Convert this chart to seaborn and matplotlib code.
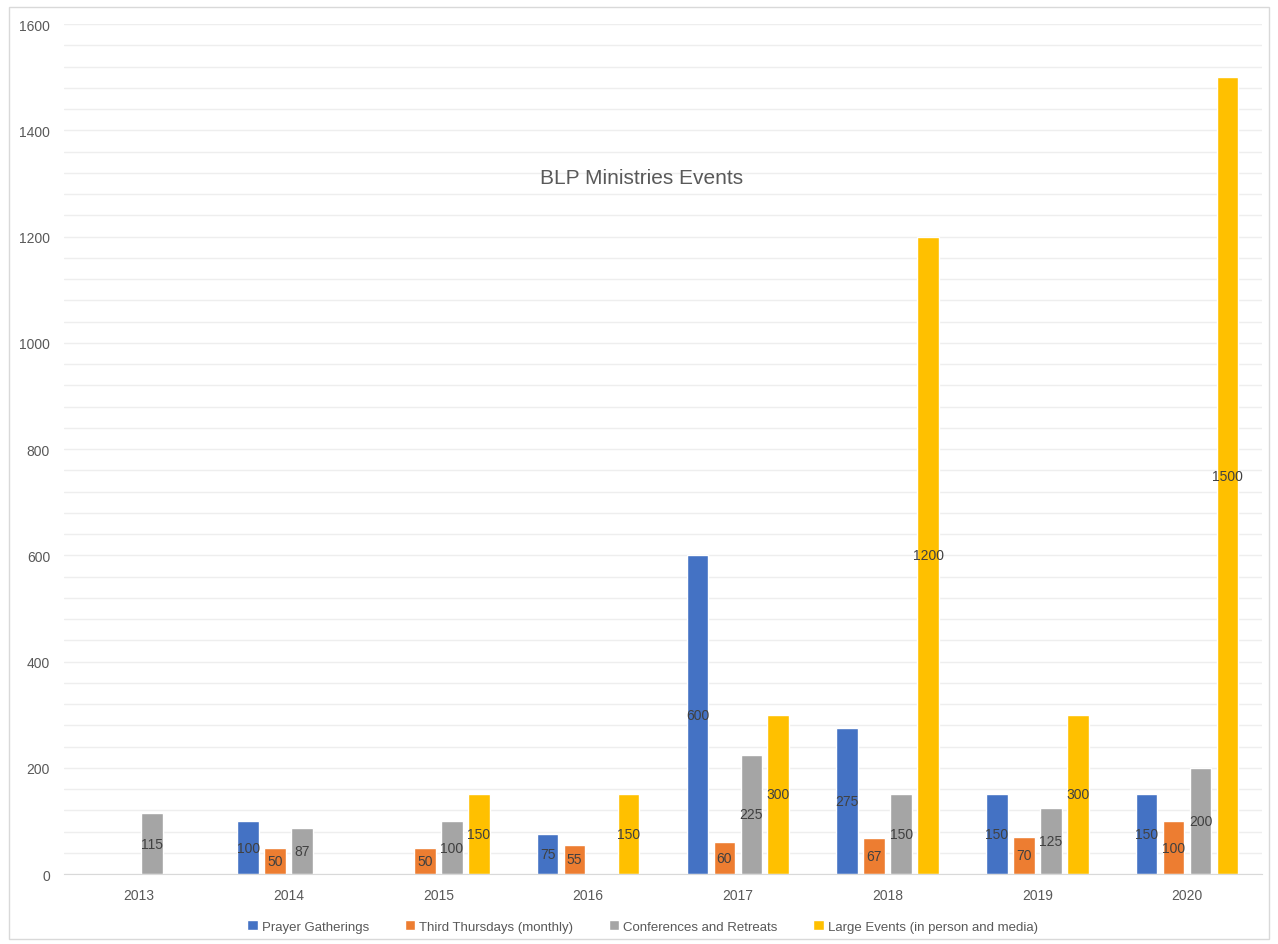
import pandas as pd
import matplotlib.pyplot as plt
import seaborn as sns
from matplotlib.ticker import MultipleLocator
from matplotlib.patches import Rectangle

# Daten
years = ['2013', '2014', '2015', '2016', '2017', '2018', '2019', '2020']
series = ['Prayer Gatherings', 'Third Thursdays (monthly)',
          'Conferences and Retreats', 'Large Events (in person and media)']
prayer = [None, 100, None, 75, 600, 275, 150, 150]
third_thursdays = [None, 50, 50, 55, 60, 67, 70, 100]
conferences = [115, 87, 100, None, 225, 150, 125, 200]
large_events = [None, None, 150, 150, 300, 1200, 300, 1500]
colors = ['#4472C4', '#ED7D31', '#A5A5A5', '#FFC000']

rows = []
for name, vals in zip(series, [prayer, third_thursdays, conferences, large_events]):
    for y, v in zip(years, vals):
        rows.append({'Year': y, 'Series': name, 'Value': v})
df = pd.DataFrame(rows)

sns.set_style('white')
plt.rcParams['font.family'] = ['Liberation Sans', 'DejaVu Sans']

fig = plt.figure(figsize=(12.78, 9.45), dpi=100)
ax = fig.add_axes([0.050, 0.074, 0.9375, 0.8995])

sns.barplot(data=df, x='Year', y='Value', hue='Series', order=years,
            hue_order=series, palette=colors, width=0.72, gap=0.2,
            saturation=1, ax=ax)

# Datenbeschriftungen in der Mitte
for cont in ax.containers:
    ax.bar_label(cont, label_type='center', fontsize=10, color='#404040',
                 fmt='%.0f')

ax.set_ylim(0, 1600)
ax.yaxis.set_major_locator(MultipleLocator(200))
ax.yaxis.set_minor_locator(MultipleLocator(40))
ax.grid(axis='y', which='both', color='#EEEEEE', linewidth=1)
ax.set_axisbelow(True)
for s in ['top', 'right', 'left']:
    ax.spines[s].set_visible(False)
ax.spines['bottom'].set_color('#D9D9D9')
ax.tick_params(axis='both', length=0, labelsize=10, labelcolor='#595959')
ax.tick_params(axis='y', pad=10)
ax.tick_params(axis='x', pad=10)
ax.set_xlabel('')
ax.set_ylabel('')

ax.text(0.482, 0.82, 'BLP Ministries Events', transform=ax.transAxes,
        ha='center', va='center', fontsize=15, color='#595959')

ax.legend(loc='upper center', bbox_to_anchor=(0.483, -0.04), ncol=4,
          frameon=False, fontsize=9.5, handlelength=0.8, handleheight=0.8,
          handletextpad=0.3, columnspacing=2.7, labelcolor='#595959')

# Rahmen um das Diagramm
fig.patches.append(Rectangle((0.007, 0.005), 0.986, 0.987, transform=fig.transFigure,
                             fill=False, edgecolor='#D9D9D9', linewidth=1))

plt.savefig('out.png', dpi=100)
